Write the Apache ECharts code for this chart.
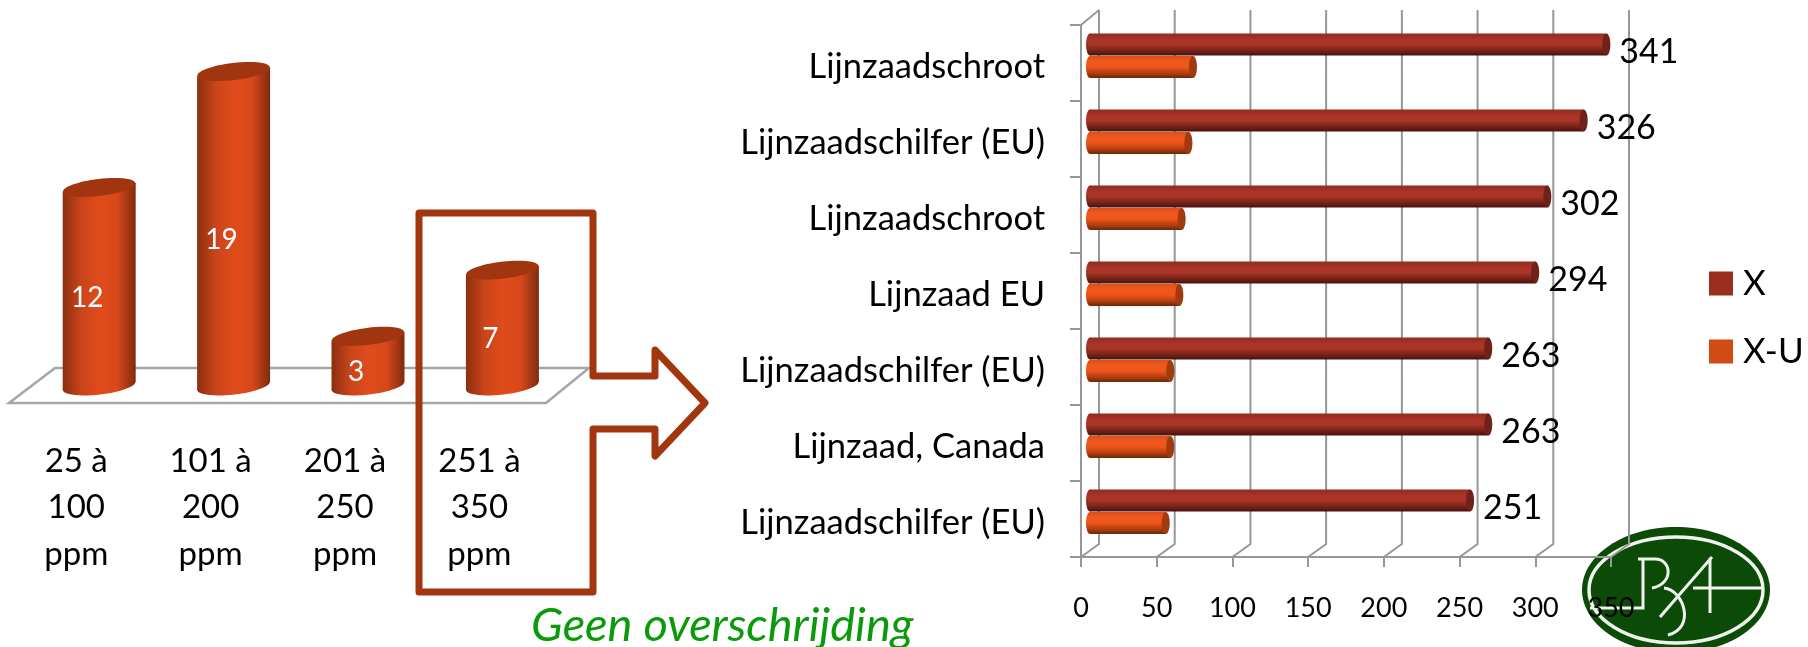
<!DOCTYPE html>
<html><head><meta charset="utf-8">
<style>html,body{margin:0;padding:0;background:#fff}#c{width:1808px;height:647px}</style>
<script src="https://cdn.jsdelivr.net/npm/echarts@6/dist/echarts.min.js"></script>
</head><body><div id="c"></div>
<script>
const ppmCategories = ['25 à\n100\nppm','101 à\n200\nppm','201 à\n250\nppm','251 à\n350\nppm'];
const ppmCounts = [12,19,3,7];
const productCategories = ['Lijnzaadschroot','Lijnzaadschilfer (EU)','Lijnzaadschroot','Lijnzaad EU','Lijnzaadschilfer (EU)','Lijnzaad, Canada','Lijnzaadschilfer (EU)'];
const seriesX = [341,326,302,294,263,263,251];
const seriesXU = [68,65,60.5,59,53,53,50];
const xTicks = [0,50,100,150,200,250,300,350];
const FONT = 'Lato';

const lg = (x2,y2,stops)=>({type:'linear',x:0,y:0,x2,y2,colorStops:stops.map((c,i)=>({offset:i/(stops.length-1),color:c}))});

function cylinderItem(params, api){
  const idx = api.value(0), val = api.value(1);
  const top = api.coord([idx,val]), base = api.coord([idx,0]);
  const band = api.size([1,0])[0];
  const w = band*0.543, rx = w/2, ry = 8.5, tilt = 0.12;
  const cx = top[0], dy = rx*Math.sin(tilt);
  const body = lg(1,0,['#8a2f10','#c9441a','#e04b1b','#d8481a','#7f2b0e']);
  const ell = (y,fill)=>({type:'ellipse',shape:{cx,cy:y,rx,ry},style:{fill},rotation:tilt,originX:cx,originY:y});
  return {type:'group',children:[
    ell(base[1],body),
    {type:'polygon',shape:{points:[[cx-rx,top[1]+dy],[cx+rx,top[1]-dy],[cx+rx,base[1]-dy],[cx-rx,base[1]+dy]]},style:{fill:body}},
    ell(top[1],'#a13510'),
    {type:'text',x:cx-12,y:(top[1]+base[1])/2+11,style:{text:String(val),fill:'#fff',font:'28px '+FONT,align:'center',verticalAlign:'middle'}}
  ]};
}

function hBar(offsetFrac, body, capFill, showLabel){
  return function(params, api){
    const val = api.value(0), idx = api.value(1);
    const end = api.coord([val,idx]), start = api.coord([0,idx]);
    const band = api.size([0,1])[1];
    const h = band*0.29, ry = h/2, rx = 4, dx = 9;
    const cy = end[1] + band*offsetFrac;
    const x0 = start[0]+dx, x1 = end[0]+dx;
    const kids = [
      {type:'ellipse',shape:{cx:x0,cy,rx,ry},style:{fill:body}},
      {type:'rect',shape:{x:x0,y:cy-ry,width:x1-x0,height:h},style:{fill:body}},
      {type:'ellipse',shape:{cx:x1,cy,rx,ry},style:{fill:capFill}}
    ];
    if(showLabel) kids.push({type:'text',x:x1+13,y:cy+7,style:{text:String(val),fill:'#000',font:'34px '+FONT,align:'left',verticalAlign:'middle'}});
    return {type:'group',children:kids};
  };
}

function wallItem(params, api){
  const v = api.value(0);
  const p = api.coord([v,0]);
  const cs = params.coordSys, dx = 18, dy = 13;
  const floor = cs.y+cs.height, backTop = cs.y-15;
  const kids = [{type:'polyline',shape:{points:[[p[0],floor],[p[0]+dx,floor-dy],[p[0]+dx,backTop]]},style:{fill:'none',stroke:'#979797',lineWidth:2}}];
  if(params.dataIndex===0) kids.push({type:'line',shape:{x1:p[0],y1:cs.y,x2:p[0]+dx,y2:backTop},style:{stroke:'#979797',lineWidth:2}});
  return {type:'group',children:kids};
}

const barBodyX = lg(0,1,['#8e2c1e','#a83326','#ab3527','#7c2519','#47120c']);
const barBodyU = lg(0,1,['#d9501c','#f0581c','#ee561b','#b8410f','#6e2608']);
const logoInk = {fill:'none',stroke:'#eef4ec',lineWidth:3};

const option = {
  animation:false,
  backgroundColor:'#fff',
  textStyle:{fontFamily:FONT},
  grid:[
    {left:32,width:537.6,top:55,height:331},
    {left:1081,width:530,top:25,height:532}
  ],
  xAxis:[
    {type:'category',gridIndex:0,data:ppmCategories,axisLine:{show:false},axisTick:{show:false},
     axisLabel:{interval:0,color:'#000',fontSize:33,fontFamily:FONT,lineHeight:46.5,margin:52,align:'center',padding:[0,46,0,0]}},
    {type:'value',gridIndex:1,min:0,max:350,interval:50,splitLine:{show:false},
     axisLine:{show:true,onZero:false,lineStyle:{color:'#979797',width:2}},
     axisTick:{show:true,length:10,lineStyle:{color:'#979797',width:2}},
     axisLabel:{color:'#000',fontSize:27,fontFamily:FONT,margin:38,showMaxLabel:true,hideOverlap:false}}
  ],
  yAxis:[
    {type:'value',gridIndex:0,min:0,max:20,show:false},
    {type:'category',gridIndex:1,inverse:true,data:productCategories,
     axisLine:{show:true,lineStyle:{color:'#979797',width:2}},
     axisTick:{show:true,length:11,lineStyle:{color:'#979797',width:2}},
     axisLabel:{interval:0,color:'#000',fontSize:34.5,fontFamily:FONT,margin:36,verticalAlign:'top',lineHeight:7}}
  ],
  legend:{orient:'vertical',left:1709,top:266,padding:0,itemWidth:24,itemHeight:24,itemGap:33,icon:'rect',
    data:['X','X-U'],selectedMode:false,textStyle:{color:'#000',fontSize:35,fontFamily:FONT,padding:[0,0,0,5]}},
  series:[
    {type:'custom',name:'walls',xAxisIndex:1,yAxisIndex:1,z:1,silent:true,clip:false,data:xTicks.map(v=>[v]),encode:{x:0},renderItem:wallItem},
    {type:'custom',name:'ppm',xAxisIndex:0,yAxisIndex:0,z:3,clip:false,data:ppmCounts.map((v,i)=>[i,v]),encode:{x:0,y:1},renderItem:cylinderItem},
    {type:'custom',name:'X',xAxisIndex:1,yAxisIndex:1,z:4,clip:false,itemStyle:{color:'#9c2e1f'},data:seriesX.map((v,i)=>[v,i]),encode:{x:0,y:1},renderItem:hBar(-0.243,barBodyX,'#71201a',true)},
    {type:'custom',name:'X-U',xAxisIndex:1,yAxisIndex:1,z:3,clip:false,itemStyle:{color:'#d24a14'},data:seriesXU.map((v,i)=>[v,i]),encode:{x:0,y:1},renderItem:hBar(0.053,barBodyU,'#a13a10',false)}
  ],
  graphic:[
    {type:'polygon',z:0,shape:{points:[[9,403],[546,403],[589,368],[55,368]]},style:{fill:'#fff',stroke:'#a6a6a6',lineWidth:2.5}},
    {type:'ellipse',z:-3,shape:{cx:1676,cy:590,rx:94,ry:63},style:{fill:'#0b4a07'}},
    {type:'ellipse',z:-2,shape:{cx:1676,cy:590,rx:87,ry:53},style:{fill:'none',stroke:'#eef4ec',lineWidth:3.5}},
    {type:'polyline',z:-2,shape:{points:[[1590,608],[1643,608],[1643,560]]},style:logoInk},
    {type:'line',z:-2,shape:{x1:1638,y1:559,x2:1655,y2:559},style:logoInk},
    {type:'bezierCurve',z:-2,shape:{x1:1655,y1:559,cpx1:1672,cpy1:559,cpx2:1674,cpy2:584,x2:1652,y2:588},style:logoInk},
    {type:'bezierCurve',z:-2,shape:{x1:1664,y1:588,cpx1:1684,cpy1:590,cpx2:1696,cpy2:628,x2:1668,y2:635},style:logoInk},
    {type:'line',z:-2,shape:{x1:1712,y1:557,x2:1660,y2:617},style:logoInk},
    {type:'line',z:-2,shape:{x1:1710,y1:558,x2:1710,y2:613},style:logoInk},
    {type:'line',z:-2,shape:{x1:1693,y1:588,x2:1763,y2:588},style:logoInk},
    {type:'polygon',z:20,shape:{points:[[419,213],[593,213],[593,376],[655,376],[655,350],[705,403],[655,456],[655,429],[593,429],[593,592],[419,592]]},
     style:{fill:'none',stroke:'#a1360f',lineWidth:7,lineJoin:'round'}},
    {type:'text',z:20,left:531,top:602,style:{text:'Geen overschrijding',fill:'#0a9a0a',font:'italic 47px '+FONT}}
  ]
};
const chart = echarts.init(document.getElementById('c'),null,{renderer:'canvas'});
chart.setOption(option);
</script></body></html>
